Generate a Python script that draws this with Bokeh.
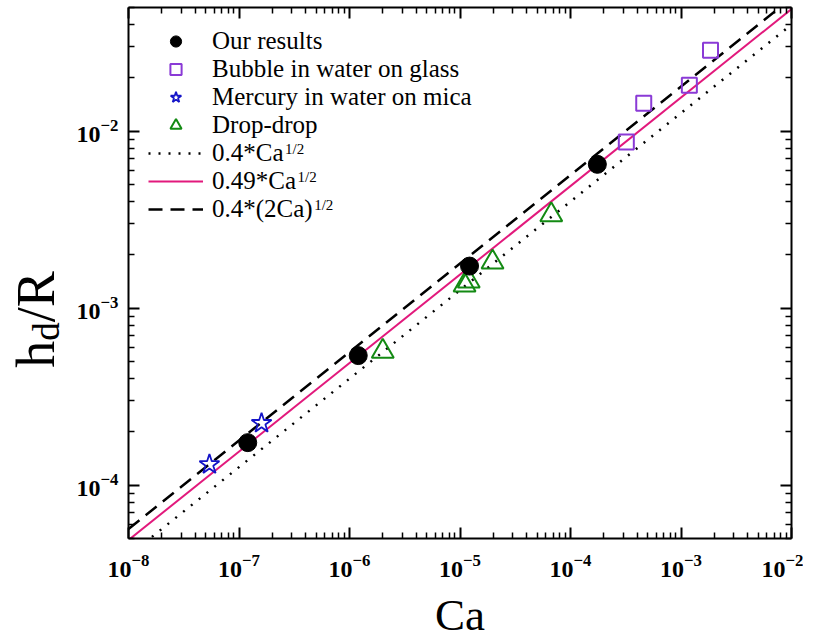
import numpy as np
from bokeh.plotting import figure
from bokeh.layouts import row, column
from bokeh.models import (LogAxis, FixedTicker, LogTickFormatter, CustomJSTickFormatter,
                          Legend, LegendItem, Label)
from bokeh.embed import file_html
from bokeh.resources import INLINE

# ---------------- data ----------------
ours_ca = [1.2e-7, 1.2e-6, 1.22e-5, 1.75e-4]
ours_h = [1.74e-4, 5.4e-4, 1.73e-3, 6.5e-3]

bubble_ca = [3.2e-4, 4.6e-4, 1.19e-3, 1.85e-3]
bubble_h = [8.7e-3, 1.44e-2, 1.82e-2, 2.87e-2]

mercury_ca = [5.4e-8, 1.6e-7]
mercury_h = [1.31e-4, 2.24e-4]

drop_ca = [2.0e-6, 1.1e-5, 1.2e-5, 1.97e-5, 6.7e-5]
drop_h = [5.7e-4, 1.35e-3, 1.42e-3, 1.82e-3, 3.37e-3]

# model lines: coefficient * Ca^(1/2)
line_ca = [1e-8, 1e-2]
coef_dotted = 0.4
coef_solid = 0.49
coef_dashed = 0.4 * np.sqrt(2.0)

x_ticks = [1e-8, 1e-7, 1e-6, 1e-5, 1e-4, 1e-3, 1e-2]
y_ticks = [1e-4, 1e-3, 1e-2]

legend_labels = ["Our results", "Bubble in water on glass", "Mercury in water on mica",
                 "Drop-drop", "0.4*Ca", "0.49*Ca", "0.4*(2Ca)"]
sup_text = "1/2"
x_title = "Ca"
y_title = ["h", "d", "/R"]

# ---------------- styling ----------------
SERIF = "Liberation Serif"
PURPLE = "#8a3ad6"
BLUE = "#1414c8"
GREEN = "#138a13"
PINK = "#e2197c"

FW, FH = 663, 531
TOP, BOTTOM, LEFT, RIGHT = 7, 48, 58, 12
YLAB_W = 70
TOTAL_W = YLAB_W + LEFT + FW + RIGHT
PH = TOP + FH + BOTTOM
XLAB_H = 636 - PH

p = figure(x_axis_type="log", y_axis_type="log",
           x_range=(1e-8, 1e-2), y_range=(5e-5, 5e-2),
           frame_width=FW, frame_height=FH,
           min_border_left=LEFT, min_border_right=RIGHT,
           min_border_top=TOP, min_border_bottom=BOTTOM,
           output_backend="svg", toolbar_location=None)
p.frame_align = False
p.grid.visible = False
p.outline_line_color = None
p.background_fill_color = "white"


def minor_list(decades):
    out = []
    for d in decades:
        for k in range(2, 10):
            out.append(k * d)
    return out


x_minor = minor_list(x_ticks[:-1])
y_minor = minor_list([1e-5] + y_ticks)


def style_axis(ax, ticks, minor, show_labels):
    ax.ticker = FixedTicker(ticks=ticks, minor_ticks=minor)
    ax.axis_line_width = 2
    ax.axis_line_color = "black"
    ax.major_tick_in = 11
    ax.major_tick_out = 0
    ax.minor_tick_in = 6
    ax.minor_tick_out = 0
    ax.major_tick_line_width = 2
    ax.minor_tick_line_width = 1.5
    ax.major_tick_line_color = "black"
    ax.minor_tick_line_color = "black"
    if show_labels:
        ax.formatter = LogTickFormatter()
        ax.major_label_text_font = SERIF
        ax.major_label_text_font_style = "bold"
        ax.major_label_text_font_size = "24px"
        ax.major_label_text_color = "black"
    else:
        ax.formatter = CustomJSTickFormatter(code="return ''")
        ax.major_label_text_font_size = "1px"
        ax.major_label_standoff = 0


xaxis = p.xaxis[0]
yaxis = p.yaxis[0]
style_axis(xaxis, x_ticks, x_minor, True)
style_axis(yaxis, y_ticks, y_minor, True)
xaxis.major_label_standoff = 16
yaxis.major_label_standoff = 10

top = LogAxis()
right = LogAxis()
style_axis(top, x_ticks, x_minor, False)
style_axis(right, y_ticks, y_minor, False)
p.add_layout(top, "above")
p.add_layout(right, "right")

# ---------------- lines ----------------
ca_arr = np.array(line_ca)
r_dot = p.line(line_ca, list(coef_dotted * np.sqrt(ca_arr)), line_color="black",
               line_width=2.5, line_dash="2 8")
r_sol = p.line(line_ca, list(coef_solid * np.sqrt(ca_arr)), line_color=PINK, line_width=2)
r_dash = p.line(line_ca, list(coef_dashed * np.sqrt(ca_arr)), line_color="black",
                line_width=2.5, line_dash="14 8")

# ---------------- markers ----------------
r_b = p.scatter(bubble_ca, bubble_h, marker="square", size=15, fill_color=None,
                line_color=PURPLE, line_width=2)
r_m = p.scatter(mercury_ca, mercury_h, marker="star", size=21, fill_color=None,
                line_color=BLUE, line_width=1.8)
r_d = p.scatter(drop_ca, drop_h, marker="triangle", size=22, fill_color=None,
                line_color=GREEN, line_width=2)
r_o = p.scatter(ours_ca, ours_h, marker="circle", size=18, fill_color="black",
                line_color="black")

renderers = [r_o, r_b, r_m, r_d, r_dot, r_sol, r_dash]
legend = Legend(items=[LegendItem(label=l, renderers=[r]) for l, r in zip(legend_labels, renderers)],
                location="top_left", margin=10, padding=10, spacing=0,
                glyph_width=55, glyph_height=28, label_height=28, label_standoff=9,
                label_text_font=SERIF, label_text_font_size="25px", label_text_color="black",
                border_line_alpha=0, background_fill_alpha=0)
p.add_layout(legend)

# superscripts "1/2" after the fit labels (Times advance widths)
TW = {"0": .5, "1": .5, "2": .5, "4": .5, "9": .5, ".": .25, "*": .5, "(": .333, ")": .333,
      "C": .667, "a": .444}
LEG_FS = 25
label_x0 = 10 + 10 + 55 + 9
for i, lab in enumerate(legend_labels[4:]):
    row_center = 10 + 10 + 14 + 28 * (4 + i)
    w = sum(TW[c] for c in lab) * LEG_FS
    p.add_layout(Label(x=label_x0 + w + 1, y=FH - row_center + 5, x_units="screen", y_units="screen",
                       text=sup_text, text_font=SERIF, text_font_size="15px",
                       text_baseline="alphabetic", text_align="left", text_color="black"))


def blank_fig(w, h):
    f = figure(width=w, height=h, x_range=(0, 1), y_range=(0, 1), title=None,
               x_axis_location=None, y_axis_location=None, min_border=0,
               output_backend="svg", toolbar_location=None)
    f.frame_align = False
    f.grid.visible = False
    f.outline_line_color = None
    f.background_fill_color = "white"
    f.border_fill_color = "white"
    return f


# y axis title h_d/R, composed from pieces (rotated)
yfig = blank_fig(YLAB_W, PH)
YFS, SUBFS = 54, 37
widths = [0.5 * YFS, 0.5 * SUBFS, (0.278 + 0.667) * YFS]
sizes = [YFS, SUBFS, YFS]
base_pos = [35, 46, 35]
center_y = PH - 319
pos = center_y - sum(widths) / 2
for txt, fs, bx, w in zip(y_title, sizes, base_pos, widths):
    yfig.add_layout(Label(x=bx, y=pos, x_units="screen", y_units="screen", angle=np.pi / 2,
                          text=txt, text_font=SERIF, text_font_size=f"{fs}px",
                          text_baseline="alphabetic", text_align="left", text_color="black"))
    pos += w

# x axis title
xfig = blank_fig(TOTAL_W, XLAB_H)
xfig.add_layout(Label(x=YLAB_W + LEFT + FW / 2, y=22, x_units="screen", y_units="screen",
                      text=x_title, text_font=SERIF, text_font_size="45px",
                      text_baseline="alphabetic", text_align="center", text_color="black"))

layout = column(row(yfig, p), xfig)
open("out.html", "w").write(file_html(layout, INLINE))
